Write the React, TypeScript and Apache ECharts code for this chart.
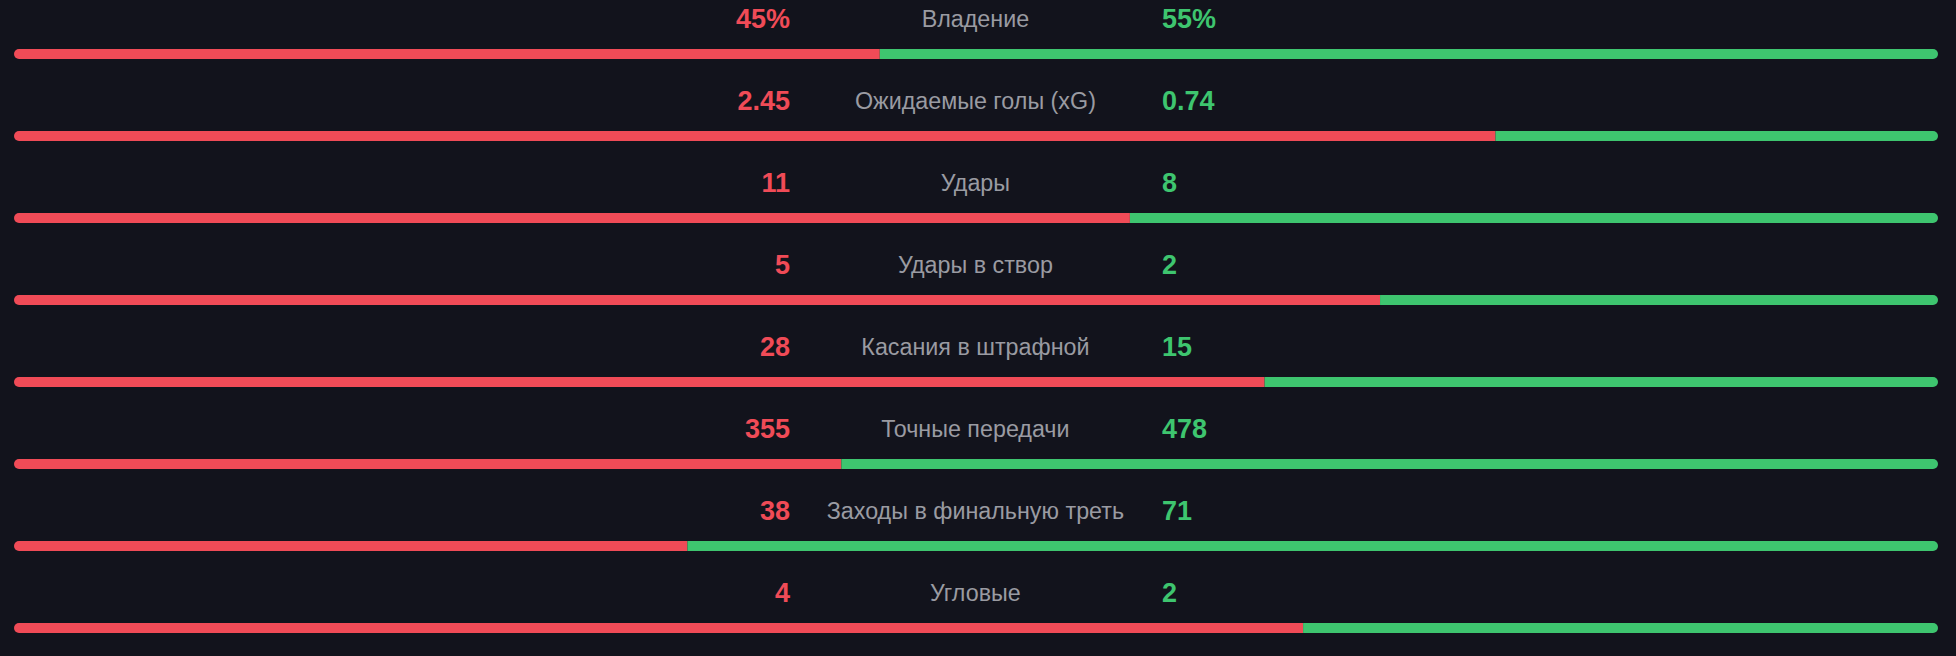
import React, { useEffect, useRef } from "react";
import * as echarts from "echarts";

const categories = [
  "Владение",
  "Ожидаемые голы (xG)",
  "Удары",
  "Удары в створ",
  "Касания в штрафной",
  "Точные передачи",
  "Заходы в финальную треть",
  "Угловые",
];
const leftValues = [45, 2.45, 11, 5, 28, 355, 38, 4];
const rightValues = [55, 0.74, 8, 2, 15, 478, 71, 2];
const leftLabels = ["45%", "2.45", "11", "5", "28", "355", "38", "4"];
const rightLabels = ["55%", "0.74", "8", "2", "15", "478", "71", "2"];

const RED = "#f04b57";
const GREEN = "#3ec56f";
const GREY = "#9a9ba2";
const BG = "#12131c";

export default function App() {
  const ref = useRef<HTMLDivElement>(null);
  useEffect(() => {
    if (!ref.current) return;
    const chart = echarts.init(ref.current, undefined, { renderer: "svg" });
    const leftShare = leftValues.map((v, i) => Math.round((v / (v + rightValues[i])) * 100));
    const rightShare = leftShare.map((v) => 100 - v);
    const font = "'Liberation Sans', Arial, Helvetica, sans-serif";
    const textSeries = (xs: number, names: string[], color: string, align: string, size: number, bold: boolean) => ({
      type: "scatter",
      symbolSize: 0,
      itemStyle: { opacity: 1 },
      data: names.map((t, i) => ({ value: [xs, i], name: t })),
      label: {
        show: true,
        position: "inside",
        offset: [0, -35],
        align,
        verticalAlign: "middle",
        formatter: (p: any) => p.name,
        color,
        opacity: 1,
        fontSize: size,
        fontWeight: bold ? "bold" : "normal",
        fontFamily: font,
      },
      silent: true,
    });
    chart.setOption({
      animation: false,
      backgroundColor: BG,
      grid: { left: 14, right: 18, top: 54, bottom: 28 },
      xAxis: { type: "value", min: 0, max: 100, show: false },
      yAxis: {
        type: "category",
        data: categories,
        inverse: true,
        boundaryGap: false,
        show: false,
      },
      series: [
        {
          type: "bar",
          stack: "s",
          data: leftShare,
          barWidth: 10,
          itemStyle: { color: RED, borderRadius: [5, 0, 0, 5] },
          silent: true,
        },
        {
          type: "bar",
          stack: "s",
          data: rightShare,
          barWidth: 10,
          itemStyle: { color: GREEN, borderRadius: [0, 5, 5, 0] },
          silent: true,
        },
        textSeries(40.33, leftLabels, RED, "right", 27, true),
        textSeries(49.97, categories, GREY, "center", 23.3, false),
        textSeries(59.67, rightLabels, GREEN, "left", 27, true),
      ],
    });
    return () => chart.dispose();
  }, []);
  return (
    <div
      ref={ref}
      style={{ position: "fixed", left: 0, top: 0, width: 1956, height: 656, background: BG }}
    />
  );
}
